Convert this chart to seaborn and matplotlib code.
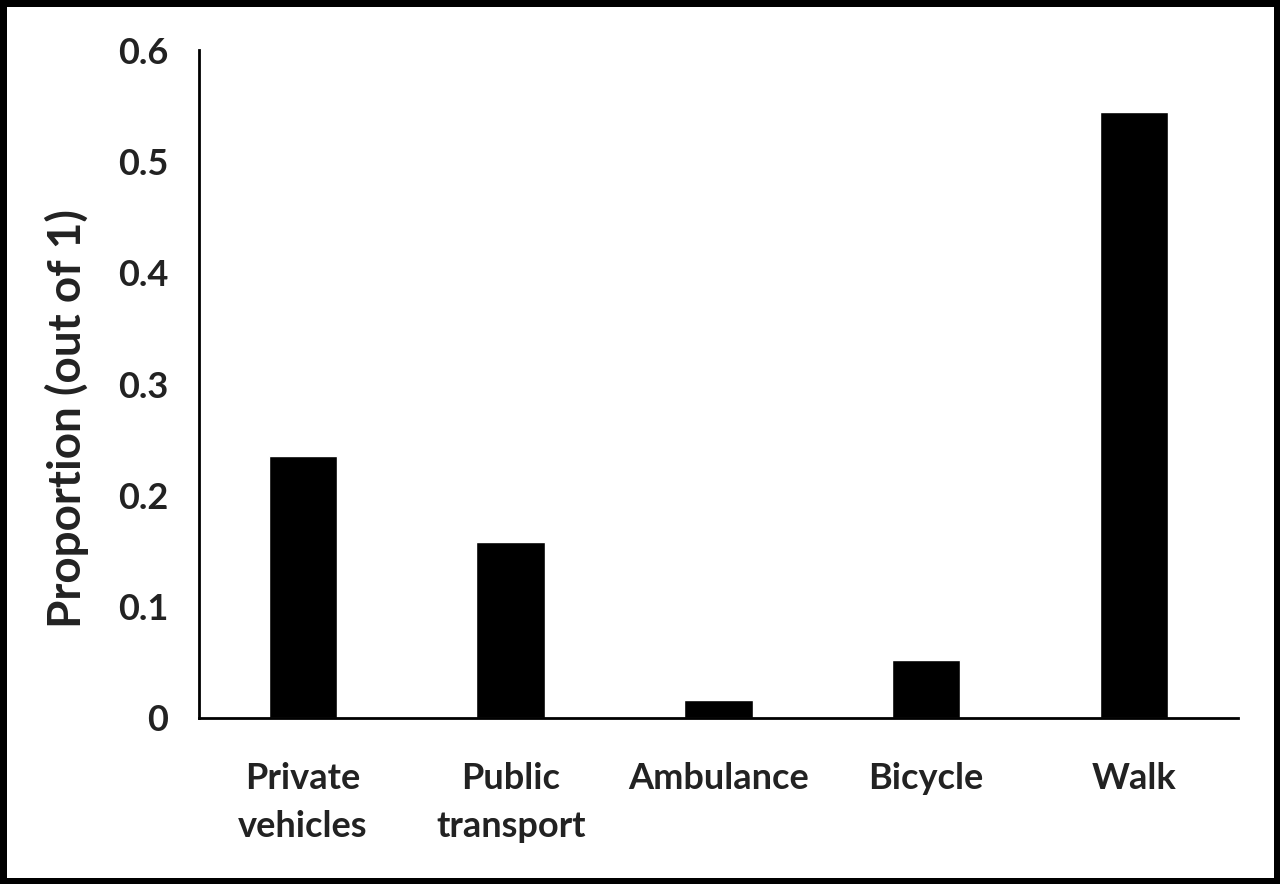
import pandas as pd
import seaborn as sns
import matplotlib.pyplot as plt

modes = ["Private\nvehicles", "Public\ntransport", "Ambulance", "Bicycle", "Walk"]
proportion = [0.235, 0.158, 0.016, 0.052, 0.544]

df = pd.DataFrame({"mode": modes, "proportion": proportion})

sns.set_style("white")
plt.rcParams["font.family"] = ["Lato", "DejaVu Sans"]

fig = plt.figure(figsize=(12.8, 8.84), dpi=100)
fig.patch.set_edgecolor("black")
fig.patch.set_linewidth(8)
ax = fig.add_axes([0.1555, 0.1878, 0.8115, 0.7556])

sns.barplot(data=df, x="mode", y="proportion", color="black", width=0.33,
            saturation=1, ax=ax)

ax.set_ylim(0, 0.6)
ax.set_xlim(-0.5, 4.5)
ax.set_yticks([0, 0.1, 0.2, 0.3, 0.4, 0.5, 0.6])
ax.set_yticklabels(["0", "0.1", "0.2", "0.3", "0.4", "0.5", "0.6"])
ax.tick_params(axis="both", length=0, labelsize=26, colors="#222222")
ax.tick_params(axis="y", pad=22)
ax.tick_params(axis="x", pad=32)
for lab in ax.get_xticklabels() + ax.get_yticklabels():
    lab.set_fontweight("bold")
for lab in ax.get_xticklabels():
    lab.set_linespacing(1.55)
ax.set_xlabel("")
ax.set_ylabel("Proportion (out of 1)", fontsize=33, fontweight="bold",
              color="#222222")
ax.yaxis.set_label_coords(-0.106, 0.449)

sns.despine(ax=ax, top=True, right=True)
for s in ["left", "bottom"]:
    ax.spines[s].set_color("black")
    ax.spines[s].set_linewidth(2)

plt.savefig("out.png", dpi=100, edgecolor=fig.get_edgecolor())
